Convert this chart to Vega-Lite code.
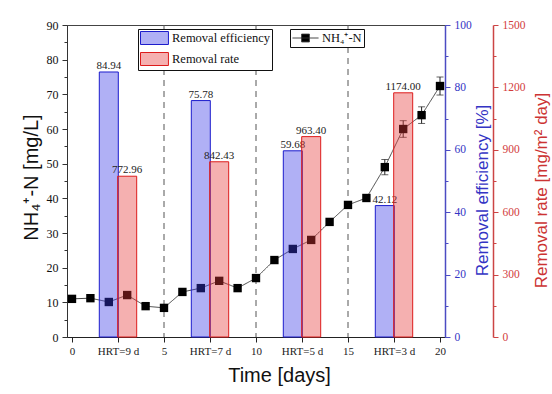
{
  "$schema": "https://vega.github.io/schema/vega-lite/v6.json",
  "width": 378,
  "height": 312,
  "autosize": {"type": "none"},
  "padding": {"left": 67, "top": 25, "right": 107, "bottom": 57},
  "background": "white",
  "config": {
    "view": {"stroke": "#444", "strokeWidth": 1},
    "axis": {"grid": false, "labelFont": "Liberation Serif", "titleFont": "Liberation Sans", "titleFontWeight": "normal", "tickSize": 5, "labelFontSize": 12},
    "legend": {"orient": "none", "strokeColor": "#111", "fillColor": "white", "padding": 2, "labelFont": "Liberation Serif", "labelFontSize": 12.5, "labelColor": "#111", "rowPadding": 3, "titlePadding": 0}
  },
  "datasets": {
    "nh4": [
      {"day": 0, "nh4": 11.0},
      {"day": 1, "nh4": 11.2},
      {"day": 2, "nh4": 10.1},
      {"day": 3, "nh4": 12.1},
      {"day": 4, "nh4": 8.9},
      {"day": 5, "nh4": 8.4},
      {"day": 6, "nh4": 13.0},
      {"day": 7, "nh4": 14.1},
      {"day": 8, "nh4": 16.2},
      {"day": 9, "nh4": 14.1},
      {"day": 10, "nh4": 17.0},
      {"day": 11, "nh4": 22.2},
      {"day": 12, "nh4": 25.4},
      {"day": 13, "nh4": 28.0},
      {"day": 14, "nh4": 33.2},
      {"day": 15, "nh4": 38.1},
      {"day": 16, "nh4": 40.1},
      {"day": 17, "nh4": 49.0, "err": 2.2},
      {"day": 18, "nh4": 60.0, "err": 2.4},
      {"day": 19, "nh4": 64.0, "err": 2.4},
      {"day": 20, "nh4": 72.4, "err": 2.6}
    ],
    "bars": [
      {"hrt": "HRT=9 d", "metric": "Removal efficiency", "day": 2, "value": 84.94},
      {"hrt": "HRT=9 d", "metric": "Removal rate", "day": 3, "value": 772.96},
      {"hrt": "HRT=7 d", "metric": "Removal efficiency", "day": 7, "value": 75.78},
      {"hrt": "HRT=7 d", "metric": "Removal rate", "day": 8, "value": 842.43},
      {"hrt": "HRT=5 d", "metric": "Removal efficiency", "day": 12, "value": 59.68},
      {"hrt": "HRT=5 d", "metric": "Removal rate", "day": 13, "value": 963.40},
      {"hrt": "HRT=3 d", "metric": "Removal efficiency", "day": 17, "value": 42.12},
      {"hrt": "HRT=3 d", "metric": "Removal rate", "day": 18, "value": 1174.00}
    ],
    "hrt": [{"day": 5}, {"day": 10}, {"day": 15}]
  },
  "encoding": {
    "x": {
      "field": "day", "type": "quantitative",
      "scale": {"domain": [0, 20], "nice": false, "zero": false},
      "axis": {
        "values": [0, 2.5, 5, 7.5, 10, 12.5, 15, 17.5, 20],
        "labelExpr": "datum.value == 2.5 ? 'HRT=9 d' : datum.value == 7.5 ? 'HRT=7 d' : datum.value == 12.5 ? 'HRT=5 d' : datum.value == 17.5 ? 'HRT=3 d' : datum.label",
        "title": "Time [days]", "titleFontSize": 20, "titleColor": "#111",
        "titleX": 212, "titleY": 44, "titleBaseline": "alphabetic", "titleAlign": "center",
        "domainColor": "#222", "tickColor": "#222", "labelColor": "#222",
        "labelFontSize": 11, "labelPadding": 3, "labelFlush": false
      }
    }
  },
  "layer": [
    {
      "data": {"name": "hrt"},
      "mark": {"type": "rule", "strokeDash": [6, 5], "color": "#555", "strokeWidth": 1},
      "encoding": {}
    },
    {
      "data": {"name": "nh4"},
      "encoding": {
        "y": {
          "field": "nh4", "type": "quantitative",
          "scale": {"domain": [0, 90], "nice": false},
          "axis": {
            "title": "NH₄⁺-N [mg/L]",
            "values": [0, 5, 10, 15, 20, 25, 30, 35, 40, 45, 50, 55, 60, 65, 70, 75, 80, 85, 90],
            "labelExpr": "datum.value % 10 == 0 ? datum.label : ''",
            "tickSize": {"condition": {"test": "datum.value % 10 == 0", "value": 5}, "value": 3},
            "titleFontSize": 20, "titleColor": "#111",
            "titleX": -36, "titleY": 152, "titleAngle": 270, "titleAlign": "center", "titleBaseline": "middle",
            "domainColor": "#333", "tickColor": "#333", "labelColor": "#111", "labelFontSize": 12, "labelPadding": 4
          }
        }
      },
      "layer": [
        {
          "mark": {"type": "line", "color": "#444", "strokeWidth": 1},
          "encoding": {
            "strokeDash": {
              "datum": "NH₄⁺-N",
              "scale": {"range": [[1, 0]]},
              "legend": {
                "title": null, "legendX": 223, "legendY": 4,
                "symbolType": "M-1,0H3M0.4,-0.6H1.6V0.6H0.4Z",
                "symbolSize": 169, "labelOffset": 16,
                "symbolStrokeColor": "#333", "symbolFillColor": "#000",
                "encode": {"symbols": {"update": {"fill": {"value": "#000"}, "stroke": {"value": "#333"}, "strokeWidth": {"value": 1}}}}
              }
            }
          }
        },
        {
          "transform": [{"filter": "datum.err > 0"}],
          "mark": {"type": "errorbar", "ticks": {"size": 7, "color": "#222"}, "color": "#222"},
          "encoding": {"yError": {"field": "err"}}
        },
        {
          "mark": {"type": "point", "shape": "square", "filled": true, "color": "#000", "size": 70, "opacity": 1}
        }
      ]
    },
    {
      "data": {"name": "bars"},
      "transform": [{"filter": "datum.metric == 'Removal efficiency'"}],
      "encoding": {
        "y": {
          "field": "value", "type": "quantitative",
          "scale": {"domain": [0, 100], "nice": false},
          "axis": {
            "orient": "right",
            "title": "Removal efficiency [%]",
            "values": [0, 10, 20, 30, 40, 50, 60, 70, 80, 90, 100],
            "labelExpr": "datum.value % 20 == 0 ? datum.label : ''",
            "tickSize": {"condition": {"test": "datum.value % 20 == 0", "value": 5}, "value": 3},
            "titleFontSize": 17, "titleColor": "#3434c4",
            "titleX": 37, "titleY": 165, "titleAngle": 270, "titleAlign": "center", "titleBaseline": "middle",
            "domainColor": "#4b4bc3", "domainWidth": 1.5, "tickColor": "#4b4bc3", "labelColor": "#3434c4", "labelFontSize": 11.5, "labelPadding": 4
          }
        }
      },
      "layer": [
        {
          "mark": {"type": "bar", "size": 19, "fillOpacity": 0.4, "strokeWidth": 1},
          "encoding": {
            "fill": {"field": "metric", "type": "nominal", "scale": {"domain": ["Removal efficiency", "Removal rate"], "range": ["#3a3ae6", "#e63a3a"]},
              "legend": {"title": null, "legendX": 71, "legendY": 4, "symbolType": "M-1,-1H3.3V1H-1Z", "symbolSize": 169, "labelOffset": 18, "encode": {"symbols": {"update": {"fillOpacity": {"value": 0.4}, "strokeWidth": {"value": 1}}}}}},
            "stroke": {"field": "metric", "type": "nominal", "scale": {"domain": ["Removal efficiency", "Removal rate"], "range": ["#1c1ccc", "#dd1c1c"]},
              "legend": {"title": null, "legendX": 71, "legendY": 4, "symbolType": "M-1,-1H3.3V1H-1Z", "symbolSize": 169, "labelOffset": 18, "encode": {"symbols": {"update": {"fillOpacity": {"value": 0.4}, "strokeWidth": {"value": 1}}}}}}
          }
        },
        {
          "mark": {"type": "text", "baseline": "bottom", "dy": -1, "font": "Liberation Serif", "fontSize": 11, "color": "#222"},
          "encoding": {"text": {"field": "value", "type": "quantitative", "format": ".2f"}}
        }
      ]
    },
    {
      "data": {"name": "bars"},
      "transform": [{"filter": "datum.metric == 'Removal rate'"}],
      "encoding": {
        "y": {
          "field": "value", "type": "quantitative",
          "scale": {"domain": [0, 1500], "nice": false},
          "axis": {
            "orient": "right", "offset": 48,
            "title": "Removal rate [mg/m² day]",
            "values": [0, 150, 300, 450, 600, 750, 900, 1050, 1200, 1350, 1500],
            "labelExpr": "datum.value % 300 == 0 ? datum.label : ''",
            "tickSize": {"condition": {"test": "datum.value % 300 == 0", "value": 5}, "value": 3},
            "titleFontSize": 17, "titleColor": "#cc3333",
            "titleX": 48, "titleY": 165, "titleAngle": 270, "titleAlign": "center", "titleBaseline": "middle",
            "domainColor": "#cc4444", "domainWidth": 1.5, "tickColor": "#cc4444", "labelColor": "#d23c3c", "labelFontSize": 11.5, "labelPadding": 4, "format": "d"
          }
        }
      },
      "layer": [
        {
          "mark": {"type": "bar", "size": 19, "fillOpacity": 0.4, "strokeWidth": 1},
          "encoding": {
            "fill": {"field": "metric", "type": "nominal", "scale": {"domain": ["Removal efficiency", "Removal rate"], "range": ["#3a3ae6", "#e63a3a"]},
              "legend": {"title": null, "legendX": 71, "legendY": 4, "symbolType": "M-1,-1H3.3V1H-1Z", "symbolSize": 169, "labelOffset": 18, "encode": {"symbols": {"update": {"fillOpacity": {"value": 0.4}, "strokeWidth": {"value": 1}}}}}},
            "stroke": {"field": "metric", "type": "nominal", "scale": {"domain": ["Removal efficiency", "Removal rate"], "range": ["#1c1ccc", "#dd1c1c"]},
              "legend": {"title": null, "legendX": 71, "legendY": 4, "symbolType": "M-1,-1H3.3V1H-1Z", "symbolSize": 169, "labelOffset": 18, "encode": {"symbols": {"update": {"fillOpacity": {"value": 0.4}, "strokeWidth": {"value": 1}}}}}}
          }
        },
        {
          "mark": {"type": "text", "baseline": "bottom", "dy": -1, "font": "Liberation Serif", "fontSize": 11, "color": "#222"},
          "encoding": {"text": {"field": "value", "type": "quantitative", "format": ".2f"}}
        }
      ]
    }
  ],
  "resolve": {"scale": {"y": "independent"}, "axis": {"y": "independent"}}
}
